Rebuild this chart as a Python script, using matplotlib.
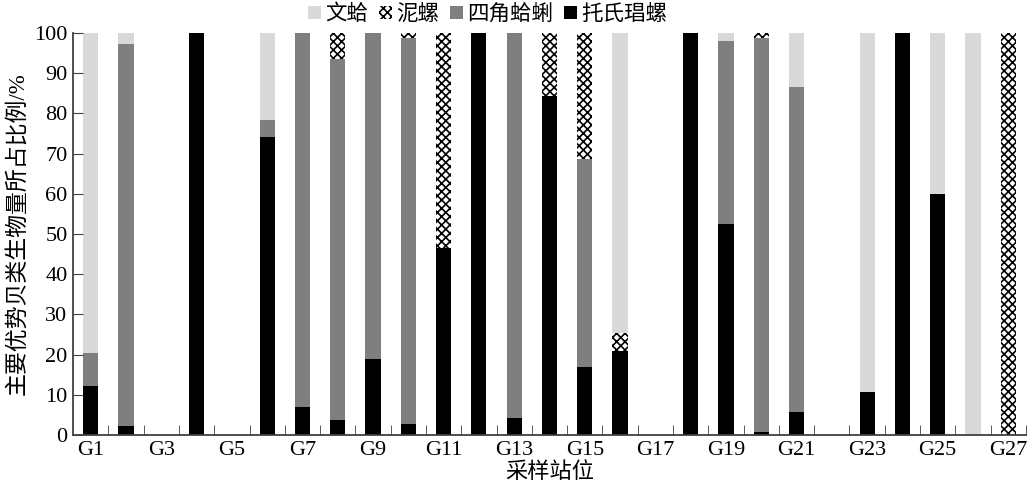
import numpy as np
import matplotlib
matplotlib.use("Agg")
import matplotlib.pyplot as plt

plt.rcParams['font.family'] = ['Liberation Serif', 'Noto Sans CJK SC']
plt.rcParams['hatch.linewidth'] = 1.2

stations = ["G" + str(i) for i in range(1, 28)]

# 托氏琩螺, 四角蛤蜊, 泥螺, 文蛤 (% of biomass)
tuoshi = [12.3, 2.3, 0, 100, 0, 74.0, 7.0, 3.8, 19.0, 2.7, 46.4, 100, 4.2, 84.3,
          17.0, 20.8, 0, 100, 52.5, 0.8, 5.8, 0, 10.8, 100, 60.0, 0, 0]
sijiao = [8.2, 95.0, 0, 0, 0, 4.4, 93.0, 89.7, 81.0, 96.1, 0, 0, 95.8, 0,
          51.6, 0, 0, 0, 45.5, 97.9, 80.7, 0, 0, 0, 0, 0, 0]
niluo = [0, 0, 0, 0, 0, 0, 0, 6.5, 0, 1.2, 53.6, 0, 0, 15.7,
         31.4, 4.5, 0, 0, 0, 1.3, 0, 0, 0, 0, 0, 0, 100]
wenge = [79.5, 2.7, 0, 0, 0, 21.6, 0, 0, 0, 0, 0, 0, 0, 0,
         0, 74.7, 0, 0, 2.0, 0, 13.5, 0, 89.2, 0, 40.0, 100, 0]

x = np.arange(len(stations))
w = 0.43

fig = plt.figure(figsize=(10.29, 4.9), dpi=100)
ax = fig.add_axes([0.071, 0.112, 0.926, 0.821])

b1 = np.array(tuoshi)
b2 = b1 + np.array(sijiao)
b3 = b2 + np.array(niluo)

h_tuo = ax.bar(x, tuoshi, w, color='black', label='托氏琩螺')
h_si = ax.bar(x, sijiao, w, bottom=b1, color='#7f7f7f', label='四角蛤蜊')
h_ni = ax.bar(x, niluo, w, bottom=b2, color='white', edgecolor='black',
              hatch='xxxx', linewidth=0, label='泥螺')
h_wen = ax.bar(x, wenge, w, bottom=b3, color='#d9d9d9', label='文蛤')

ax.set_xlim(-0.5, len(stations) - 0.5)
ax.set_ylim(0, 100)
ax.set_yticks(np.arange(0, 101, 10))
ax.set_xticks(x[::2])
ax.set_xticklabels(stations[::2])
ax.set_xticks(np.arange(0.5, len(stations), 1), minor=True)
ax.tick_params(axis='x', which='major', length=0, labelsize=16, pad=4)
ax.tick_params(axis='x', which='minor', direction='in', length=7, color='#404040')
ax.tick_params(axis='y', direction='in', length=7, labelsize=16, color='#404040', pad=4)

for s in ['top', 'right']:
    ax.spines[s].set_visible(False)
for s in ['left', 'bottom']:
    ax.spines[s].set_color('#404040')
    ax.spines[s].set_linewidth(1.3)

ax.set_xlabel('采样站位', fontsize=16, labelpad=2)
ax.set_ylabel('主要优势贝类生物量所占比例/%', fontsize=16.5, labelpad=4)

ax.legend([h_wen, h_ni, h_si, h_tuo], ['文蛤', '泥螺', '四角蛤蜊', '托氏琩螺'],
          loc='center', bbox_to_anchor=(0.435, 1.045), ncol=4, frameon=False,
          fontsize=15.5, handlelength=0.6, handleheight=0.6, handletextpad=0.2,
          columnspacing=0.5, borderaxespad=0, borderpad=0)

fig.savefig('out.png', dpi=100)
